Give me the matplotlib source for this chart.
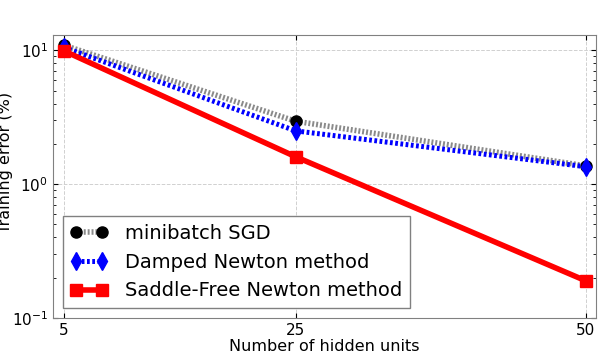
import numpy as np
import matplotlib
matplotlib.use("Agg")
import matplotlib.pyplot as plt

# data
hidden_units = [5, 25, 50]
sgd_err = [10.9, 2.95, 1.37]
damped_err = [10.5, 2.5, 1.35]
saddle_err = [9.9, 1.6, 0.19]

fig = plt.figure(figsize=(5.98, 3.54), dpi=100)
ax = fig.add_axes([0.0886, 0.1017, 0.908, 0.7993])

ax.plot(hidden_units, sgd_err, color="#8a8a8a", linestyle=(0, (0.35, 0.35)), linewidth=4,
        marker="o", markersize=8, markerfacecolor="black", markeredgecolor="black",
        label="minibatch SGD")
ax.plot(hidden_units, damped_err, color="blue", linestyle=(0, (0.55, 0.5)), linewidth=3.6,
        marker="d", markersize=9, markerfacecolor="blue", markeredgecolor="blue",
        label="Damped Newton method")
ax.plot(hidden_units, saddle_err, color="red", linestyle="-", linewidth=4,
        marker="s", markersize=8, markerfacecolor="red", markeredgecolor="red",
        label="Saddle-Free Newton method")

ax.set_yscale("log")
ax.set_ylim(0.1, 13)
ax.set_xlim(4.05, 50.9)
ax.set_xticks(hidden_units)
ax.set_xticklabels([str(h) for h in hidden_units])

ax.grid(True, which="major", color="#d0d0d0", linestyle="--", linewidth=0.7)
ax.tick_params(which="both", direction="in", top=True, right=True, labelsize=11)
ax.tick_params(axis="x", which="minor", top=False, bottom=False)
for s in ax.spines.values():
    s.set_color("#808080")

ax.set_xlabel("Number of hidden units", fontsize=11.5, labelpad=1)
ax.set_ylabel("Training error (%)", fontsize=11.5)
ax.yaxis.set_label_coords(-0.074, 0.551)

leg = ax.legend(loc="lower left", bbox_to_anchor=(0.018, 0.035), borderaxespad=0,
                fontsize=14, fancybox=False, framealpha=1, numpoints=2,
                handlelength=1.9, handletextpad=0.9)
leg.get_frame().set_edgecolor("#808080")

fig.savefig("out.png", dpi=100)
